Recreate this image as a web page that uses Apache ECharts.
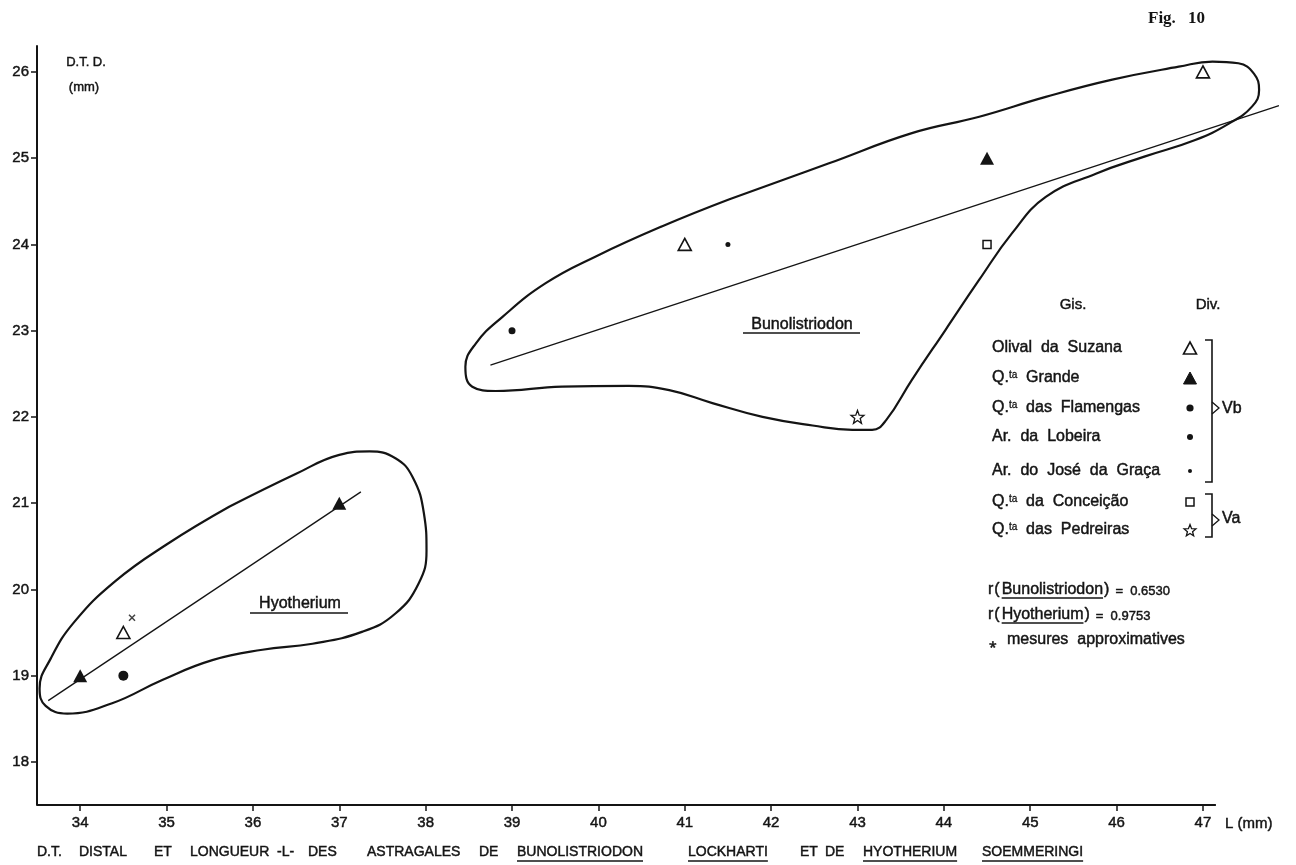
<!DOCTYPE html>
<html><head><meta charset="utf-8">
<script src="https://cdn.jsdelivr.net/npm/echarts@6/dist/echarts.min.js"></script>
<style>html,body{margin:0;padding:0;background:#fff}#c{width:1296px;height:865px}</style>
</head><body><div id="c"></div>
<script>
// ---------------- data ----------------
const xTicks = [34,35,36,37,38,39,40,41,42,43,44,45,46,47];
const yTicks = [18,19,20,21,22,23,24,25,26];
const axisExtentX = [33.5, 47.15];   // drawn part of the L axis
const axisExtentY = [17.5, 26.3];

const siteNames = ['Olival da Suzana','Q.ta Grande','Q.ta das Flamengas','Ar. da Lobeira','Ar. do José da Graça','Q.ta da Conceição','Q.ta das Pedreiras'];
const siteLabels = ['Olival  da  Suzana','Q.{s|ta}  Grande','Q.{s|ta}  das  Flamengas','Ar.  da  Lobeira','Ar.  do  José  da  Graça','Q.{s|ta}  da  Conceição','Q.{s|ta}  das  Pedreiras'];
const divisions = ['Vb','Va'];

// L (mm), D.T.D. (mm)
const olivalSuzana = [[34.5,19.5],[41,24],[47,26]];
const qtaGrande    = [[34,19],[37,21],[44.5,25]];
const qtaFlamengas = [[34.5,19]];
const arLobeira    = [[39,23]];
const arJoseGraca  = [[41.5,24]];
const qtaConceicao = [[44.5,24]];
const qtaPedreiras = [[43,22]];
const approxMeasures = [[34.6,19.67]];

const hyoRegression  = [[33.63,18.71],[37.25,21.13]];
const bunoRegression = [[38.75,22.60],[47.88,25.61]];

const hyoOutline = [[35.73,20.96],[35.0,20.52],[34.40,20.09],[33.93,19.62],[33.66,19.20],[33.53,18.85],[33.60,18.65],[33.85,18.56],[34.37,18.68],[34.95,18.95],[35.53,19.18],[36.11,19.30],[36.69,19.37],[37.27,19.51],[37.65,19.72],[37.92,20.07],[38.01,20.45],[37.98,20.88],[37.85,21.30],[37.65,21.52],[37.35,21.60],[37.00,21.56],[36.50,21.34],[35.73,20.96]];
const bunoOutline = [[41.51,24.52],[42.67,24.94],[43.63,25.29],[44.41,25.48],[45.18,25.71],[45.95,25.91],[46.72,26.06],[47.11,26.12],[47.41,26.10],[47.59,25.98],[47.65,25.79],[47.57,25.60],[47.30,25.40],[46.91,25.21],[46.33,25.02],[45.76,24.82],[45.18,24.55],[44.79,24.13],[44.41,23.59],[44.02,23.01],[43.63,22.43],[43.33,21.96],[43.17,21.85],[42.94,21.85],[42.48,21.90],[41.90,22.00],[41.32,22.16],[40.82,22.31],[40.35,22.36],[39.58,22.35],[38.81,22.30],[38.54,22.35],[38.46,22.58],[38.58,22.85],[38.89,23.16],[39.39,23.55],[39.97,23.86],[40.74,24.21],[41.51,24.52]];

const rGenera = ['Bunolistriodon','Hyotherium'];
const rValues = ['0.6530','0.9753'];
const captionWords = ['D.T.','DISTAL','ET','LONGUEUR','-L-','DES','ASTRAGALES','DE','BUNOLISTRIODON','LOCKHARTI','ET','DE','HYOTHERIUM','SOEMMERINGI'];
const captionUnderlined = [false,false,false,false,false,false,false,false,true,true,false,false,true,true];

// ---------------- style / layout ----------------
const INK = '#141414';
const FF = '"Liberation Sans", Arial, Helvetica, sans-serif';
const TB = 0.45; // slight stroke to mimic printed weight
const STAR = 'path://M10,0L12.47,6.6L19.51,6.91L13.99,11.3L15.88,18.09L10,14.2L4.12,18.09L6.01,11.3L0.49,6.91L7.53,6.6Z';
const CROSS = 'path://M0,0L10,10M10,0L0,10';

const cv = document.createElement('canvas').getContext('2d');
function tw(t, size, weight){ cv.font = (weight||'normal') + ' ' + size + 'px "Liberation Sans"'; return cv.measureText(t).width; }

const G = [];
function txt(x, y, text, o){
  o = o || {};
  const st = {text, x:0, y:0, fill:INK, fontSize:o.size||16, fontFamily:o.family||FF, fontWeight:o.weight||'normal',
    align:o.align||'left', textAlign:o.align||'left', verticalAlign:'middle', textVerticalAlign:'middle',
    stroke:INK, lineWidth: o.tb === undefined ? TB : o.tb};
  if (o.rich) st.rich = o.rich;
  G.push({type:'text', x, y, silent:true, z:10, style:st});
}
function seg(x1,y1,x2,y2,w){ G.push({type:'line', silent:true, z:10, shape:{x1,y1,x2,y2}, style:{stroke:INK, lineWidth:w||1.3}}); }
function pline(points,w){ G.push({type:'polyline', silent:true, z:10, shape:{points}, style:{stroke:INK, fill:null, lineWidth:w||1.6}}); }

// Fig. 10
txt(1148, 19, 'Fig.', {size:17, weight:'bold', family:'"Liberation Serif", "DejaVu Serif", serif', tb:0});
txt(1188, 19, '10', {size:17, weight:'bold', family:'"Liberation Serif", "DejaVu Serif", serif', tb:0});
// axis names
txt(86, 62, 'D.T. D.', {size:13, align:'center'});
txt(84, 87, '(mm)', {size:13, align:'center'});
txt(1225, 824, 'L (mm)', {size:15});
// group labels
txt(300, 604, 'Hyotherium', {size:16, align:'center'});
seg(250, 613, 348, 613, 1.4);
txt(802, 325, 'Bunolistriodon', {size:16, align:'center'});
seg(743, 333, 860, 333, 1.4);

// legend
txt(1073, 305, 'Gis.', {size:15, align:'center'});
txt(1208, 305, 'Div.', {size:15, align:'center'});
const rowsY = [348, 378, 408, 437, 471, 502, 530];
const rich = {s:{fontSize:10, fontFamily:FF, verticalAlign:'top', fill:INK, stroke:INK, lineWidth:0.3, padding:[0,0,6,0]}};
siteLabels.forEach((l,i)=> txt(992, rowsY[i], l, {size:16, rich}));
const SX = 1190;
G.push({type:'polygon', silent:true, z:10, shape:{points:[[SX-6.5,rowsY[0]+6],[SX+6.5,rowsY[0]+6],[SX,rowsY[0]-6]]}, style:{fill:'#fff', stroke:INK, lineWidth:1.6}});
G.push({type:'polygon', silent:true, z:10, shape:{points:[[SX-6.5,rowsY[1]+6],[SX+6.5,rowsY[1]+6],[SX,rowsY[1]-6]]}, style:{fill:INK, stroke:INK, lineWidth:1}});
G.push({type:'circle', silent:true, z:10, shape:{cx:SX, cy:rowsY[2], r:3.6}, style:{fill:INK}});
G.push({type:'circle', silent:true, z:10, shape:{cx:SX, cy:rowsY[3], r:3.0}, style:{fill:INK}});
G.push({type:'circle', silent:true, z:10, shape:{cx:SX, cy:rowsY[4], r:2.0}, style:{fill:INK}});
G.push({type:'rect', silent:true, z:10, shape:{x:SX-4, y:rowsY[5]-4, width:8, height:8}, style:{fill:'#fff', stroke:INK, lineWidth:1.5}});
(function(){ const pts=[]; for(let k=0;k<10;k++){ const a=-Math.PI/2+k*Math.PI/5, r=k%2?2.7:6.2; pts.push([SX+r*Math.cos(a), rowsY[6]+0.8+r*Math.sin(a)]);} G.push({type:'polygon', silent:true, z:10, shape:{points:pts}, style:{fill:'#fff', stroke:INK, lineWidth:1.3}}); })();
// brackets
pline([[1205,340],[1212,340],[1212,482],[1205,482]]);
pline([[1212,402],[1219,408],[1212,414]], 1.3);
txt(1222, 409, divisions[0], {size:16});
pline([[1205,494],[1212,494],[1212,537],[1205,537]]);
pline([[1212,514],[1219,520],[1212,526]], 1.3);
txt(1222, 519, divisions[1], {size:16});

// correlation lines
const rRowsY = [590, 615];
rGenera.forEach((g,i)=>{
  let x = 988; const y = rRowsY[i];
  txt(x, y, 'r', {size:16}); x += tw('r',16) + 1;
  txt(x, y, '(', {size:16}); x += tw('(',16) + 2;
  txt(x, y, g, {size:16}); const w = tw(g,16); seg(x, y+8, x+w, y+8, 1.3); x += w + 1;
  txt(x, y, ')', {size:16}); x += tw(')',16) + 6;
  txt(x, y+1, '=  ' + rValues[i], {size:13});
});
txt(989, 641, '⁎', {size:14});
txt(1007, 640, 'mesures  approximatives', {size:16});

// caption
const capX = [37,79,154,190,277,308,367,479,517,688,800,825,863,982];
captionWords.forEach((w,i)=>{
  txt(capX[i], 852, w, {size:14});
  if (captionUnderlined[i]) seg(capX[i], 861, capX[i]+tw(w,14), 861, 1.3);
});

// ---------------- series ----------------
function outline(name, data){ return {name, type:'line', data, smooth:0.45, symbol:'none', clip:false, silent:true, lineStyle:{color:INK, width:2.2}, z:2}; }
function regression(name, data){ return {name, type:'line', data, symbol:'none', clip:false, silent:true, lineStyle:{color:INK, width:1.3}, z:3}; }
function points(name, data, symbol, size, filled, bw){
  return {name, type:'scatter', data, symbol, symbolSize:size, clip:false, z:5,
    itemStyle:{color: filled ? INK : '#fff', borderColor: INK, borderWidth: filled ? 0 : bw, opacity:1}};
}

const chart = echarts.init(document.getElementById('c'), null, {renderer:'canvas'});
chart.setOption({
  backgroundColor:'#fff',
  animation:false,
  grid:{left:37, right:11, top:46, bottom:60},
  xAxis:{type:'value', min:33.5, max:47.95,
    axisLine:{show:false},
    axisTick:{show:true, customValues:xTicks, length:6, lineStyle:{color:INK, width:1.5}},
    axisLabel:{customValues:xTicks, margin:10, fontSize:15, color:INK, fontFamily:FF, textBorderColor:INK, textBorderWidth:TB},
    splitLine:{show:false}},
  yAxis:{type:'value', min:axisExtentY[0], max:axisExtentY[1],
    axisLine:{show:true, onZero:false, lineStyle:{color:INK, width:2}},
    axisTick:{show:true, customValues:yTicks, length:6, lineStyle:{color:INK, width:1.5}},
    axisLabel:{customValues:yTicks, margin:8, fontSize:15, color:INK, fontFamily:FF, textBorderColor:INK, textBorderWidth:TB},
    splitLine:{show:false}},
  series:[
    {name:'axe L', type:'line', data:[[axisExtentX[0], axisExtentY[0]],[axisExtentX[1], axisExtentY[0]]], symbol:'none', silent:true, clip:false, lineStyle:{color:INK, width:2}, z:1},
    outline('Hyotherium (enveloppe)', hyoOutline),
    outline('Bunolistriodon (enveloppe)', bunoOutline),
    regression('Hyotherium (régression)', hyoRegression),
    regression('Bunolistriodon (régression)', bunoRegression),
    points(siteNames[0], olivalSuzana, 'triangle', [13,12], false, 1.6),
    points(siteNames[1], qtaGrande, 'triangle', [14,13], true, 0),
    points(siteNames[2], qtaFlamengas, 'circle', 10, true, 0),
    points(siteNames[3], arLobeira, 'circle', 7, true, 0),
    points(siteNames[4], arJoseGraca, 'circle', 5, true, 0),
    points(siteNames[5], qtaConceicao, 'rect', 8, false, 1.5),
    points(siteNames[6], qtaPedreiras, STAR, 13, false, 1.3),
    {name:'mesures approximatives', type:'scatter', data:approxMeasures, symbol:CROSS, symbolSize:6, clip:false, z:5,
      itemStyle:{color:'transparent', borderColor:INK, borderWidth:1.5}}
  ],
  graphic:G
});
</script></body></html>
